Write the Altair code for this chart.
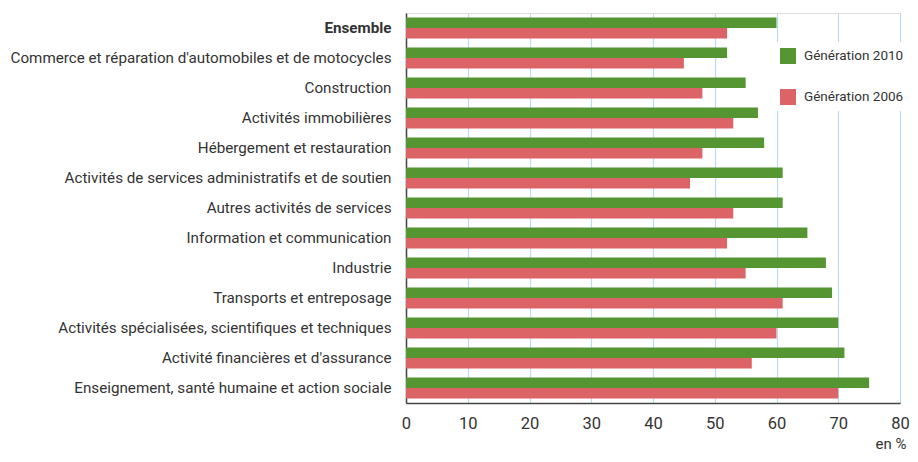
import altair as alt
import pandas as pd

categories = [
    "Ensemble",
    "Commerce et réparation d'automobiles et de motocycles",
    "Construction",
    "Activités immobilières",
    "Hébergement et restauration",
    "Activités de services administratifs et de soutien",
    "Autres activités de services",
    "Information et communication",
    "Industrie",
    "Transports et entreposage",
    "Activités spécialisées, scientifiques et techniques",
    "Activité financières et d'assurance",
    "Enseignement, santé humaine et action sociale",
]
gen2010 = [60, 52, 55, 57, 58, 61, 61, 65, 68, 69, 70, 71, 75]
gen2006 = [52, 45, 48, 53, 48, 46, 53, 52, 55, 61, 60, 56, 70]
series = ["Génération 2010", "Génération 2006"]
colors = ["#559632", "#dc6466"]

rows = []
for c, a, b in zip(categories, gen2010, gen2006):
    rows.append({"cat": c, "serie": series[0], "val": a})
    rows.append({"cat": c, "serie": series[1], "val": b})
df = pd.DataFrame(rows)

chart = alt.Chart(df).mark_bar().encode(
    y=alt.Y("cat:N", sort=categories,
            scale=alt.Scale(paddingInner=0.3, paddingOuter=0.15),
            axis=alt.Axis(title=None, ticks=False, labelPadding=15, labelFontSize=15.2,
                          labelColor="#333333", labelLimit=500, domainColor="#444444",
                          domainWidth=1.5,
                          labelFontWeight=alt.expr("datum.value == 'Ensemble' ? 'bold' : 'normal'"))),
    yOffset=alt.YOffset("serie:N", sort=series, scale=alt.Scale(domain=series)),
    x=alt.X("val:Q", scale=alt.Scale(domain=[0, 80]),
            axis=alt.Axis(values=list(range(0, 90, 10)), title="en %", ticks=False,
                          labelFlush=False,
                          labelPadding=12, labelFontSize=16.5, labelColor="#333333",
                          domainColor="#444444", domainWidth=1.5,
                          grid=True, gridColor="#b9dcf0", gridWidth=1.2,
                          titleFontSize=15, titleFontWeight="normal", titleColor="#333333",
                          titleAnchor="end", titleAlign="right", titleX=500, titleY=45,
                          titleBaseline="alphabetic")),
    color=alt.Color("serie:N", scale=alt.Scale(domain=series, range=colors),
                    legend=alt.Legend(title=None, orient="none", legendX=368, legendY=29,
                                      symbolType="square", symbolSize=256,
                                      symbolStrokeWidth=0, labelFontSize=13.5,
                                      labelColor="#333333", labelOffset=8,
                                      rowPadding=25, fillColor="white", padding=6)),
).properties(
    width=494, height=390,
    autosize=alt.AutoSizeParams(type="none"),
    padding={"left": 398, "top": 5, "right": 10, "bottom": 51},
).configure_view(stroke=None).configure(font="Roboto")

chart.save("out.html", embed_options={"renderer": "svg", "actions": False})
